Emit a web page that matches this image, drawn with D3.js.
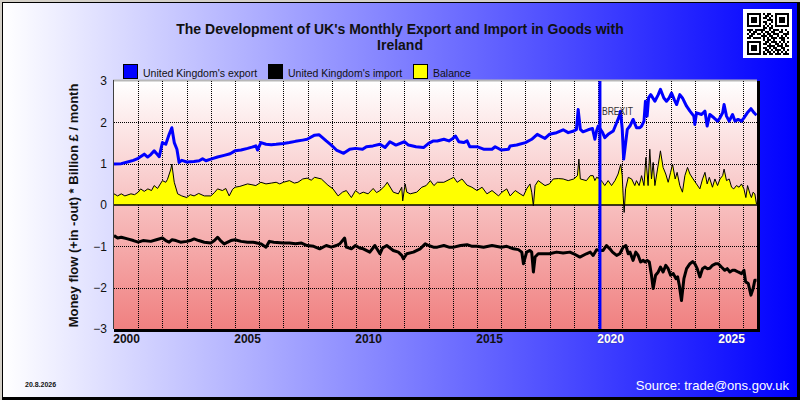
<!DOCTYPE html>
<html>
<head>
<meta charset="utf-8">
<script src="https://cdn.jsdelivr.net/npm/d3@7"></script>
<style>
  body { margin: 0; }
  svg { display: block; }
</style>
</head>
<body>
<div id="chart"></div>
<script>
// monthly flows, [decimal year, billion £]
const exportFlow = [
  [2000.0,0.99],[2000.3,1.0],[2000.56,1.04],[2000.8,1.08],[2001.0,1.13],[2001.25,1.23],[2001.39,1.16],[2001.52,1.22],
  [2001.66,1.31],[2001.87,1.17],[2002.0,1.51],[2002.14,1.47],[2002.28,1.71],[2002.39,1.87],[2002.49,1.51],[2002.6,1.35],
  [2002.69,1.03],[2002.8,1.08],[2003.01,1.04],[2003.3,1.05],[2003.52,1.07],[2003.66,1.12],[2003.8,1.07],[2004.0,1.11],
  [2004.28,1.16],[2004.55,1.2],[2004.8,1.24],[2005.0,1.31],[2005.25,1.33],[2005.52,1.37],[2005.7,1.4],[2005.86,1.43],
  [2005.93,1.33],[2006.07,1.51],[2006.28,1.47],[2006.5,1.46],[2006.7,1.47],[2007.0,1.49],[2007.25,1.51],[2007.5,1.54],
  [2007.8,1.57],[2007.98,1.59],[2008.29,1.69],[2008.47,1.7],[2008.77,1.55],[2008.98,1.45],[2009.19,1.33],[2009.49,1.25],
  [2009.74,1.35],[2009.98,1.37],[2010.27,1.35],[2010.43,1.41],[2010.7,1.43],[2010.99,1.47],[2011.2,1.39],[2011.4,1.53],
  [2011.65,1.45],[2012.0,1.53],[2012.17,1.45],[2012.48,1.41],[2012.79,1.39],[2013.0,1.49],[2013.2,1.55],[2013.36,1.55],
  [2013.63,1.59],[2013.84,1.55],[2014.0,1.61],[2014.11,1.67],[2014.25,1.53],[2014.45,1.51],[2014.59,1.55],[2014.7,1.41],
  [2015.0,1.41],[2015.27,1.35],[2015.62,1.35],[2015.75,1.41],[2016.0,1.33],[2016.3,1.35],[2016.37,1.43],[2016.64,1.45],
  [2017.0,1.51],[2017.26,1.59],[2017.49,1.71],[2017.81,1.61],[2017.99,1.71],[2018.29,1.75],[2018.56,1.82],[2018.77,1.75],
  [2019.0,1.79],[2019.11,1.83],[2019.18,2.31],[2019.27,1.83],[2019.38,1.77],[2019.59,1.82],[2019.77,1.85],[2019.87,1.59],
  [2019.94,1.79],[2020.01,1.91],[2020.19,1.75],[2020.28,1.63],[2020.42,1.71],[2020.63,1.79],[2020.77,1.99],[2020.88,2.15],
  [2020.93,2.27],[2021.0,1.85],[2021.06,1.11],[2021.11,1.35],[2021.21,1.83],[2021.32,1.91],[2021.45,2.07],[2021.59,1.87],
  [2021.73,1.87],[2021.8,1.91],[2021.9,2.03],[2021.96,2.51],[2022.03,2.15],[2022.09,2.59],[2022.18,2.67],[2022.35,2.51],
  [2022.49,2.67],[2022.58,2.8],[2022.72,2.59],[2022.83,2.51],[2022.94,2.59],[2023.04,2.71],[2023.15,2.55],[2023.25,2.43],
  [2023.38,2.67],[2023.49,2.59],[2023.66,2.39],[2023.8,2.27],[2023.96,2.15],[2024.0,1.95],[2024.07,2.23],[2024.28,2.19],
  [2024.42,2.27],[2024.51,1.91],[2024.62,2.19],[2024.79,2.11],[2024.94,2.03],[2025.04,2.11],[2025.15,2.23],[2025.21,2.43],
  [2025.31,2.15],[2025.42,2.03],[2025.56,2.19],[2025.66,2.03],[2025.79,2.07],[2025.93,2.03],[2026.03,2.11],[2026.17,2.23],
  [2026.32,2.33],[2026.45,2.23],[2026.55,2.17]
];

const importFlow = [
  [2000.0,-0.74],[2000.15,-0.8],[2000.3,-0.78],[2000.56,-0.82],[2000.8,-0.86],[2001.0,-0.9],[2001.2,-0.86],[2001.52,-0.88],
  [2001.75,-0.84],[2002.0,-0.8],[2002.14,-0.86],[2002.28,-0.9],[2002.4,-0.84],[2002.56,-0.86],[2002.75,-0.9],[2003.01,-0.88],
  [2003.15,-0.86],[2003.31,-0.82],[2003.5,-0.86],[2003.73,-0.9],[2004.0,-0.92],[2004.15,-0.86],[2004.28,-0.78],[2004.4,-0.86],
  [2004.55,-0.94],[2004.83,-0.86],[2005.0,-0.84],[2005.25,-0.88],[2005.52,-0.9],[2005.75,-0.9],[2006.07,-0.94],[2006.28,-1.02],
  [2006.42,-0.88],[2006.6,-0.9],[2007.0,-0.92],[2007.25,-0.92],[2007.5,-0.94],[2007.75,-0.92],[2007.98,-0.98],[2008.25,-1.0],
  [2008.5,-1.06],[2008.77,-0.98],[2008.98,-1.02],[2009.19,-0.98],[2009.33,-0.94],[2009.53,-0.8],[2009.6,-1.02],[2009.81,-1.06],
  [2009.98,-0.98],[2010.15,-1.04],[2010.3,-1.06],[2010.57,-1.14],[2010.78,-0.98],[2010.99,-1.18],[2011.1,-1.04],[2011.27,-0.98],
  [2011.54,-1.1],[2011.75,-1.14],[2011.89,-1.22],[2011.96,-1.3],[2012.1,-1.18],[2012.37,-1.14],[2012.65,-1.06],[2012.86,-0.94],
  [2013.0,-0.98],[2013.2,-1.02],[2013.36,-1.02],[2013.63,-0.98],[2013.84,-1.02],[2014.04,-1.02],[2014.32,-0.98],[2014.59,-0.96],
  [2014.8,-1.0],[2015.0,-1.0],[2015.27,-1.02],[2015.62,-0.98],[2016.0,-1.02],[2016.23,-1.0],[2016.51,-1.06],[2016.71,-1.08],
  [2016.85,-1.14],[2016.92,-1.42],[2017.05,-1.14],[2017.19,-1.1],[2017.26,-1.14],[2017.33,-1.62],[2017.4,-1.26],[2017.53,-1.18],
  [2017.81,-1.18],[2017.99,-1.18],[2018.29,-1.14],[2018.56,-1.16],[2018.84,-1.14],[2019.0,-1.18],[2019.25,-1.26],[2019.52,-1.18],
  [2019.68,-1.14],[2019.8,-1.22],[2019.94,-1.08],[2020.08,-1.1],[2020.21,-1.1],[2020.35,-0.98],[2020.49,-1.06],[2020.6,-1.14],
  [2020.77,-1.22],[2020.9,-1.18],[2021.04,-1.02],[2021.15,-0.98],[2021.25,-1.18],[2021.32,-1.14],[2021.45,-1.34],[2021.56,-1.14],
  [2021.66,-1.22],[2021.76,-1.38],[2021.87,-1.34],[2021.94,-1.38],[2022.03,-1.34],[2022.12,-1.38],[2022.21,-1.7],[2022.28,-2.02],
  [2022.38,-1.7],[2022.49,-1.62],[2022.58,-1.5],[2022.69,-1.62],[2022.8,-1.46],[2022.9,-1.54],[2023.0,-1.7],[2023.11,-1.66],
  [2023.22,-1.78],[2023.29,-1.74],[2023.36,-1.94],[2023.45,-2.31],[2023.55,-1.78],[2023.66,-1.54],[2023.8,-1.42],[2023.91,-1.37],
  [2024.0,-1.42],[2024.1,-1.54],[2024.21,-1.74],[2024.32,-1.54],[2024.42,-1.5],[2024.51,-1.54],[2024.62,-1.53],[2024.73,-1.46],
  [2024.87,-1.42],[2024.97,-1.42],[2025.1,-1.5],[2025.24,-1.58],[2025.34,-1.54],[2025.45,-1.62],[2025.56,-1.58],[2025.66,-1.58],
  [2025.79,-1.62],[2025.93,-1.66],[2026.03,-1.58],[2026.1,-1.86],[2026.21,-1.9],[2026.32,-2.18],[2026.41,-2.02],[2026.48,-1.82],
  [2026.55,-1.82]
];

const balanceFlow = [
  [2000.0,0.27],[2000.15,0.22],[2000.3,0.27],[2000.45,0.22],[2000.7,0.27],[2000.85,0.25],[2001.0,0.31],[2001.1,0.39],
  [2001.25,0.33],[2001.4,0.39],[2001.55,0.35],[2001.66,0.47],[2001.8,0.4],[2002.0,0.59],[2002.14,0.55],[2002.21,0.62],
  [2002.35,0.87],[2002.39,0.99],[2002.49,0.55],[2002.63,0.27],[2002.8,0.22],[2003.01,0.18],[2003.15,0.25],[2003.31,0.22],
  [2003.5,0.28],[2003.73,0.22],[2004.0,0.22],[2004.15,0.3],[2004.28,0.39],[2004.48,0.35],[2004.62,0.4],[2004.76,0.22],
  [2004.9,0.38],[2005.0,0.43],[2005.2,0.45],[2005.52,0.51],[2005.7,0.49],[2005.86,0.47],[2006.07,0.55],[2006.28,0.51],
  [2006.5,0.53],[2006.7,0.55],[2006.85,0.51],[2007.0,0.55],[2007.25,0.59],[2007.45,0.53],[2007.6,0.55],[2007.8,0.63],
  [2007.98,0.65],[2008.15,0.6],[2008.29,0.67],[2008.57,0.63],[2008.84,0.48],[2009.05,0.39],[2009.26,0.22],[2009.44,0.31],
  [2009.6,0.35],[2009.81,0.18],[2009.98,0.35],[2010.15,0.27],[2010.3,0.31],[2010.5,0.27],[2010.71,0.4],[2010.85,0.3],
  [2010.99,0.35],[2011.2,0.47],[2011.29,0.55],[2011.54,0.31],[2011.75,0.27],[2011.89,0.43],[2011.93,0.1],[2012.03,0.51],
  [2012.1,0.31],[2012.24,0.27],[2012.51,0.31],[2012.72,0.43],[2012.9,0.47],[2013.07,0.59],[2013.22,0.47],[2013.36,0.55],
  [2013.63,0.55],[2013.9,0.63],[2014.04,0.67],[2014.18,0.55],[2014.38,0.63],[2014.59,0.48],[2014.79,0.43],[2015.0,0.35],
  [2015.21,0.43],[2015.41,0.27],[2015.62,0.35],[2015.89,0.22],[2016.03,0.31],[2016.23,0.39],[2016.37,0.22],[2016.58,0.35],
  [2016.78,0.27],[2016.92,0.22],[2017.05,0.39],[2017.19,0.51],[2017.26,0.31],[2017.33,-0.02],[2017.4,0.47],[2017.53,0.59],
  [2017.81,0.47],[2017.99,0.51],[2018.15,0.63],[2018.36,0.64],[2018.56,0.63],[2018.77,0.59],[2019.0,0.63],[2019.15,0.71],
  [2019.21,1.11],[2019.27,0.63],[2019.52,0.59],[2019.68,0.71],[2019.8,0.71],[2019.87,0.59],[2019.94,0.67],[2020.08,0.63],
  [2020.19,0.55],[2020.28,0.47],[2020.42,0.59],[2020.56,0.47],[2020.7,0.59],[2020.83,0.75],[2020.94,0.99],[2021.0,0.71],
  [2021.04,0.22],[2021.08,-0.18],[2021.14,0.39],[2021.25,0.67],[2021.39,0.63],[2021.52,0.47],[2021.59,0.59],[2021.7,0.47],
  [2021.8,0.71],[2021.9,0.47],[2021.98,1.15],[2022.07,0.47],[2022.14,1.35],[2022.21,0.63],[2022.28,1.03],[2022.35,0.47],
  [2022.46,0.87],[2022.58,1.31],[2022.69,0.91],[2022.8,0.75],[2022.9,0.55],[2023.0,0.79],[2023.08,0.99],[2023.19,0.63],
  [2023.27,0.79],[2023.38,0.47],[2023.49,0.31],[2023.59,0.71],[2023.7,0.91],[2023.8,0.75],[2023.93,0.63],[2024.07,0.51],
  [2024.21,0.39],[2024.32,0.63],[2024.42,0.79],[2024.51,0.51],[2024.6,0.67],[2024.73,0.43],[2024.83,0.63],[2024.94,0.47],
  [2025.04,0.63],[2025.15,0.71],[2025.21,0.87],[2025.31,0.59],[2025.42,0.63],[2025.52,0.43],[2025.61,0.39],[2025.72,0.47],
  [2025.83,0.43],[2025.93,0.51],[2026.03,0.39],[2026.11,0.18],[2026.18,0.47],[2026.28,0.27],[2026.34,0.18],[2026.41,0.31],
  [2026.48,0.27],[2026.55,0.02]
];

const labelYears = [2000, 2005, 2010, 2015, 2020, 2025];
const gridYears = d3.range(2001, 2027);
const yTicks = [-3, -2, -1, 0, 1, 2, 3];
const brexitDate = 2020.08;

const legendItems = [
  { label: "United Kingdom's export", color: '#0000ff', x: 123 },
  { label: "United Kingdom's import", color: '#000000', x: 268 },
  { label: 'Balance', color: '#ffff00', x: 413 },
];

const qrRows = [
  '111111101011001111111', '100000100110101000001', '101110101101001011101', '101110100011101011101',
  '101110101100101011101', '100000100101001000001', '111111101010101111111', '000000001101100000000',
  '111011111001011101010', '010110010110110011001', '101101101011011100111', '011000011101100101010',
  '110111101010111011101', '000000001011010001100', '111111100110111010101', '100000101101001101010',
  '101110100011110111011', '101110101101011001100', '101110100110101110101', '100000101011010101010',
  '111111101101101110111',
];

const width = 800;
const height = 400;
const plot = { left: 114, right: 757, top: 81, bottom: 329 };

const x = d3.scaleLinear().domain([2000, 2026.57]).range([plot.left, plot.right]);
const y = d3.scaleLinear().domain([-3, 3]).range([plot.bottom, plot.top]);

const svg = d3
  .select('#chart')
  .append('svg')
  .attr('width', width)
  .attr('height', height)
  .attr('font-family', 'Arial, "Liberation Sans", sans-serif');

const defs = svg.append('defs');
const bgGrad = defs.append('linearGradient').attr('id', 'bg').attr('x1', 0).attr('x2', 1).attr('y1', 0).attr('y2', 0);
bgGrad.append('stop').attr('offset', 0).attr('stop-color', '#ffffff');
bgGrad.append('stop').attr('offset', 1).attr('stop-color', '#0000ff');
const plotGrad = defs.append('linearGradient').attr('id', 'plotbg').attr('x1', 0).attr('x2', 0).attr('y1', 0).attr('y2', 1);
plotGrad.append('stop').attr('offset', 0).attr('stop-color', '#ffffff');
plotGrad.append('stop').attr('offset', 1).attr('stop-color', '#f08080');
defs.append('clipPath').attr('id', 'clip')
  .append('rect')
  .attr('x', plot.left).attr('y', plot.top)
  .attr('width', plot.right - plot.left).attr('height', plot.bottom - plot.top);

// outer frame
svg.append('rect').attr('width', width).attr('height', height).attr('fill', '#d4d0c8');
svg.append('rect').attr('x', 2).attr('y', 2).attr('width', width - 2).attr('height', height - 2).attr('fill', '#000');
svg.append('rect').attr('x', 3).attr('y', 3).attr('width', width - 6).attr('height', height - 6).attr('fill', 'url(#bg)');

// title
const title = svg.append('text')
  .attr('text-anchor', 'middle')
  .attr('font-size', 14)
  .attr('font-weight', 'bold')
  .attr('fill', '#111');
title.append('tspan').attr('x', 400).attr('y', 34).text("The Development of UK's Monthly Export and Import in Goods with");
title.append('tspan').attr('x', 400).attr('y', 50).text('Ireland');

// qr badge
const qr = svg.append('g').attr('transform', 'translate(743,9)');
qr.append('rect').attr('width', 49).attr('height', 49).attr('fill', '#fff');
qrRows.forEach((row, r) => {
  row.split('').forEach((c, col) => {
    if (c === '1') {
      qr.append('rect').attr('x', 4 + col * 2).attr('y', 4 + r * 2).attr('width', 2).attr('height', 2).attr('fill', '#000');
    }
  });
});

// legend
const legend = svg.append('g');
legendItems.forEach((item) => {
  legend.append('rect')
    .attr('x', item.x + 0.5).attr('y', 64.5)
    .attr('width', 14).attr('height', 14)
    .attr('fill', item.color).attr('stroke', '#000');
  legend.append('text')
    .attr('x', item.x + 20).attr('y', 77)
    .attr('font-size', 10.5)
    .attr('fill', '#111')
    .text(item.label);
});

// plot box with raised edge
svg.append('rect')
  .attr('x', plot.left).attr('y', plot.top)
  .attr('width', plot.right - plot.left + 3).attr('height', plot.bottom - plot.top + 3)
  .attr('fill', '#000');
svg.append('rect')
  .attr('x', plot.left).attr('y', plot.top)
  .attr('width', plot.right - plot.left).attr('height', plot.bottom - plot.top)
  .attr('fill', 'url(#plotbg)');
svg.append('line')
  .attr('x1', plot.left - 1).attr('x2', plot.right).attr('y1', plot.top - 0.5).attr('y2', plot.top - 0.5)
  .attr('stroke', '#b8b8b8').attr('stroke-width', 2);
svg.append('line')
  .attr('x1', plot.left - 0.5).attr('x2', plot.left - 0.5).attr('y1', plot.top - 1).attr('y2', plot.bottom)
  .attr('stroke', '#404040');

const root = svg.append('g').attr('clip-path', 'url(#clip)');

// dotted grid
root.append('g')
  .selectAll('line')
  .data(gridYears)
  .join('line')
  .attr('x1', (d) => Math.round(x(d)) + 0.5).attr('x2', (d) => Math.round(x(d)) + 0.5)
  .attr('y1', plot.top).attr('y2', plot.bottom)
  .attr('stroke', '#000').attr('stroke-dasharray', '1,1');
root.append('g')
  .selectAll('line')
  .data(yTicks.filter((d) => d !== 0 && Math.abs(d) !== 3))
  .join('line')
  .attr('x1', plot.left).attr('x2', plot.right)
  .attr('y1', (d) => Math.round(y(d)) + 0.5).attr('y2', (d) => Math.round(y(d)) + 0.5)
  .attr('stroke', '#000').attr('stroke-dasharray', '1,1');

// balance area
root.append('path')
  .datum(balanceFlow)
  .attr('fill', '#ffff00')
  .attr('d', d3.area().x((d) => x(d[0])).y0(y(0)).y1((d) => y(d[1])));
root.append('path')
  .datum(balanceFlow)
  .attr('fill', 'none')
  .attr('stroke', '#000')
  .attr('stroke-width', 1)
  .attr('d', d3.line().x((d) => x(d[0])).y((d) => y(d[1])));
root.append('line')
  .attr('x1', plot.left).attr('x2', plot.right)
  .attr('y1', y(0)).attr('y2', y(0))
  .attr('stroke', '#000').attr('stroke-width', 1.5);

const flowLine = d3.line().x((d) => x(d[0])).y((d) => y(d[1]));
root.append('path')
  .datum(exportFlow)
  .attr('fill', 'none')
  .attr('stroke', '#0000ff')
  .attr('stroke-width', 3)
  .attr('stroke-linejoin', 'round')
  .attr('d', flowLine);
root.append('path')
  .datum(importFlow)
  .attr('fill', 'none')
  .attr('stroke', '#000')
  .attr('stroke-width', 3)
  .attr('stroke-linejoin', 'round')
  .attr('d', flowLine);

// brexit marker
root.append('line')
  .attr('x1', x(brexitDate)).attr('x2', x(brexitDate))
  .attr('y1', plot.top).attr('y2', plot.bottom)
  .attr('stroke', '#0000ff').attr('stroke-width', 3);
svg.append('text')
  .attr('x', x(brexitDate) + 2).attr('y', 115)
  .attr('font-size', 10.5)
  .attr('fill', '#333')
  .attr('textLength', 31)
  .attr('lengthAdjust', 'spacingAndGlyphs')
  .text('BREXIT');

// axes
const yAxis = svg.append('g')
  .attr('transform', `translate(${plot.left},0)`)
  .call(d3.axisLeft(y).tickValues(yTicks).tickSize(0).tickPadding(7).tickFormat(d3.format('d')));
yAxis.select('.domain').remove();
yAxis.selectAll('text').attr('font-size', 12).attr('font-family', 'Arial, "Liberation Sans", sans-serif').attr('fill', '#111');

const xAxis = svg.append('g')
  .attr('transform', `translate(0,${plot.bottom})`)
  .call(d3.axisBottom(x).tickValues(labelYears.map((d) => d + 0.5)).tickSize(0).tickFormat((d) => Math.floor(d)));
xAxis.select('.domain').remove();
xAxis.selectAll('text')
  .attr('y', 14).attr('dy', 0)
  .attr('font-size', 12)
  .attr('font-weight', 'bold')
  .attr('font-family', 'Arial, "Liberation Sans", sans-serif')
  .attr('fill', (d) => (d >= 2020 ? '#ffffff' : '#111'))
  .attr('stroke', (d) => (d >= 2020 ? '#30307a' : 'none'))
  .attr('stroke-width', 0.5)
  .attr('paint-order', 'stroke');

// axis title
svg.append('text')
  .attr('transform', 'translate(78,205.5) rotate(-90)')
  .attr('text-anchor', 'middle')
  .attr('font-size', 13)
  .attr('font-weight', 'bold')
  .attr('fill', '#111')
  .text('Money flow (+in -out) * Billion £ / month');

// footer
svg.append('text')
  .attr('x', 25).attr('y', 387)
  .attr('font-size', 7)
  .attr('font-weight', 'bold')
  .attr('fill', '#111')
  .text('20.8.2026');
svg.append('text')
  .attr('x', 789).attr('y', 390)
  .attr('text-anchor', 'end')
  .attr('font-size', 13)
  .attr('fill', '#fff')
  .text('Source: trade@ons.gov.uk');
</script>
</body>
</html>
